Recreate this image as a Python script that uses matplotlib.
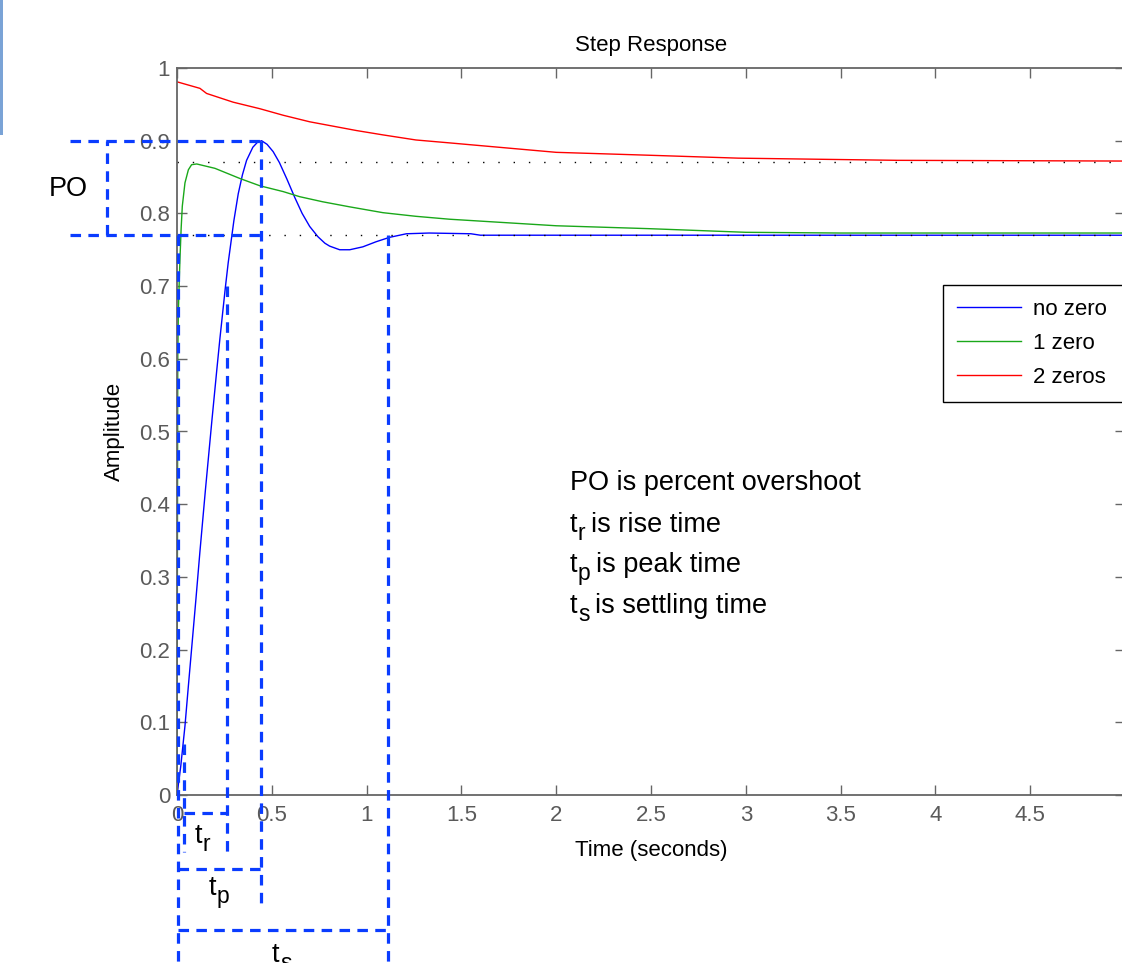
import matplotlib
matplotlib.use("Agg")
import matplotlib.pyplot as plt
from matplotlib.patches import Rectangle

plt.rcParams['font.family'] = ['Liberation Sans', 'DejaVu Sans']

# ---- data ----
t_nozero = [0, 0.02, 0.042, 0.06, 0.08, 0.10, 0.121, 0.15, 0.184, 0.21, 0.226,
            0.255, 0.27, 0.30, 0.323, 0.345, 0.367, 0.40, 0.425, 0.446, 0.475,
            0.507, 0.54, 0.58, 0.621, 0.66, 0.70, 0.743, 0.78, 0.805, 0.858,
            0.911, 0.98, 1.05, 1.12, 1.21, 1.33, 1.55, 1.6, 5.0]
y_nozero = [0, 0.04, 0.095, 0.15, 0.21, 0.27, 0.335, 0.42, 0.515, 0.585, 0.627,
            0.698, 0.732, 0.790, 0.827, 0.853, 0.873, 0.891, 0.898, 0.90, 0.895,
            0.885, 0.87, 0.847, 0.822, 0.80, 0.782, 0.768, 0.759, 0.755, 0.750,
            0.750, 0.754, 0.761, 0.767, 0.772, 0.773, 0.772, 0.770, 0.770]

t_onezero = [0, 0.002, 0.004, 0.007, 0.012, 0.016, 0.022, 0.028, 0.042, 0.06,
             0.077, 0.104, 0.2, 0.332, 0.437, 0.56, 0.647, 0.768, 0.911, 1.086,
             1.26, 1.437, 2.0, 2.49, 3.0, 3.5, 5.0]
y_onezero = [0, 0.30, 0.60, 0.663, 0.708, 0.74, 0.78, 0.81, 0.842, 0.860,
             0.867, 0.868, 0.862, 0.848, 0.838, 0.830, 0.823, 0.816, 0.809, 0.801,
             0.796, 0.792, 0.783, 0.779, 0.774, 0.773, 0.773]

t_twozeros = [0, 0.121, 0.156, 0.296, 0.437, 0.56, 0.70, 0.823, 0.946, 1.086,
              1.26, 1.437, 2.0, 2.49, 2.96, 3.8, 5.0]
y_twozeros = [0.981, 0.972, 0.965, 0.953, 0.944, 0.935, 0.926, 0.920, 0.914, 0.908,
              0.901, 0.897, 0.884, 0.880, 0.876, 0.873, 0.872]

series_labels = ['no zero', '1 zero', '2 zeros']
steady_levels = [0.871, 0.770]

xtick_vals = [0, 0.5, 1, 1.5, 2, 2.5, 3, 3.5, 4, 4.5, 5]
xtick_labels = ['0', '0.5', '1', '1.5', '2', '2.5', '3', '3.5', '4', '4.5', '']
ytick_vals = [0, 0.1, 0.2, 0.3, 0.4, 0.5, 0.6, 0.7, 0.8, 0.9, 1]
ytick_labels = ['0', '0.1', '0.2', '0.3', '0.4', '0.5', '0.6', '0.7', '0.8', '0.9', '1']

# annotation quantities
t_peak, y_peak, y_final = 0.443, 0.90, 0.770
t_rise0, t_rise1 = 0.037, 0.264
y_rise0, y_rise1 = 0.07, 0.70
t_settle = 1.113

fig = plt.figure(figsize=(11.22, 9.63), dpi=100)
ax = fig.add_axes([177/1122, 168/963, 948/1122, 727/963])

gray = '#666666'
ax.plot(t_nozero, y_nozero, color='#0000ff', lw=1.0, label=series_labels[0])
ax.plot(t_onezero, y_onezero, color='#1aa81a', lw=1.0, label=series_labels[1])
ax.plot(t_twozeros, y_twozeros, color='#ff0000', lw=1.0, label=series_labels[2])
for lev in steady_levels:
    ax.axhline(lev, color='black', lw=1.0, ls=(0, (1, 10)))

ax.set_xlim(0, 5)
ax.set_ylim(0, 1)
ax.set_xticks(xtick_vals)
ax.set_xticklabels(xtick_labels)
ax.set_yticks(ytick_vals)
ax.set_yticklabels(ytick_labels)
ax.tick_params(direction='in', length=7, width=1, color=gray, labelcolor='#5a5a5a',
               labelsize=16, top=True, right=True)
ax.tick_params(axis='x', pad=7)
ax.tick_params(axis='y', pad=5)
for s in ax.spines.values():
    s.set_color(gray)
    s.set_linewidth(1.3)

ax.set_title('Step Response', fontsize=16, pad=12)
ax.set_xlabel('Time (seconds)', fontsize=16, labelpad=10)
ax.set_ylabel('Amplitude', fontsize=16, labelpad=10)

leg = ax.legend(loc='upper left', bbox_to_anchor=(0.808, 0.4, 0.205, 0.3015),
                mode='expand', fontsize=16,
                fancybox=False, framealpha=1, edgecolor='black',
                handlelength=2.9, handletextpad=0.5, borderpad=0.63,
                labelspacing=0.59, borderaxespad=0)
leg.get_frame().set_linewidth(1.0)

# ---- dashed annotation brackets ----
dc = '#0a3cff'
dkw = dict(color=dc, lw=2.3, ls=(0, (3.3, 2.3)), clip_on=False, zorder=5)
x_left = -0.564
x_po = -0.369
ax.plot([x_left, t_peak], [y_peak, y_peak], **dkw)
ax.plot([x_left, t_peak], [y_final, y_final], **dkw)
ax.plot([x_po, x_po], [y_final, y_peak], **dkw)
ax.plot([t_peak, t_peak], [y_peak, -0.151], **dkw)
ax.plot([0.003, 0.003], [y_final, -0.26], **dkw)
ax.plot([t_rise0, t_rise0], [y_rise0, -0.078], **dkw)
ax.plot([t_rise1, t_rise1], [y_rise1, -0.078], **dkw)
ax.plot([t_settle, t_settle], [y_final, -0.26], **dkw)
ax.plot([t_rise0, t_rise1], [-0.025, -0.025], **dkw)
ax.plot([0.003, t_peak], [-0.102, -0.102], **dkw)
ax.plot([0.003, t_settle], [-0.186, -0.186], **dkw)

FS, SFS = 19.5, 16.5


def sub_label(x, y, main, sub, rest=''):
    t1 = ax.text(x, y, main, fontsize=FS, va='baseline', clip_on=False)
    t2 = ax.annotate(sub, xy=(1, 0), xycoords=t1, xytext=(0.3, -5),
                     textcoords='offset points', fontsize=SFS, va='bottom',
                     ha='left', annotation_clip=False)
    if rest:
        ax.annotate(rest, xy=(1, 0), xycoords=(t2, t1), xytext=(4, 0),
                    textcoords='offset points', fontsize=FS, va='bottom',
                    ha='left', annotation_clip=False)


ax.text(-0.675, 0.824, 'PO', fontsize=FS, va='baseline', clip_on=False)
sub_label(0.095, -0.066, 't', 'r')
sub_label(0.169, -0.1376, 't', 'p')
sub_label(0.501, -0.2297, 't', 's')

ax.text(2.073, 0.4195, 'PO is percent overshoot', fontsize=FS, va='baseline')
sub_label(2.073, 0.3618, 't', 'r', 'is rise time')
sub_label(2.073, 0.3067, 't', 'p', 'is peak time')
sub_label(2.073, 0.2503, 't', 's', 'is settling time')

# window edge artifact at top-left
fig.patches.append(Rectangle((0, 1 - 135/963), 3/1122, 135/963, transform=fig.transFigure,
                             facecolor='#7aa3d6', edgecolor='none'))

fig.savefig('out.png', dpi=100)
